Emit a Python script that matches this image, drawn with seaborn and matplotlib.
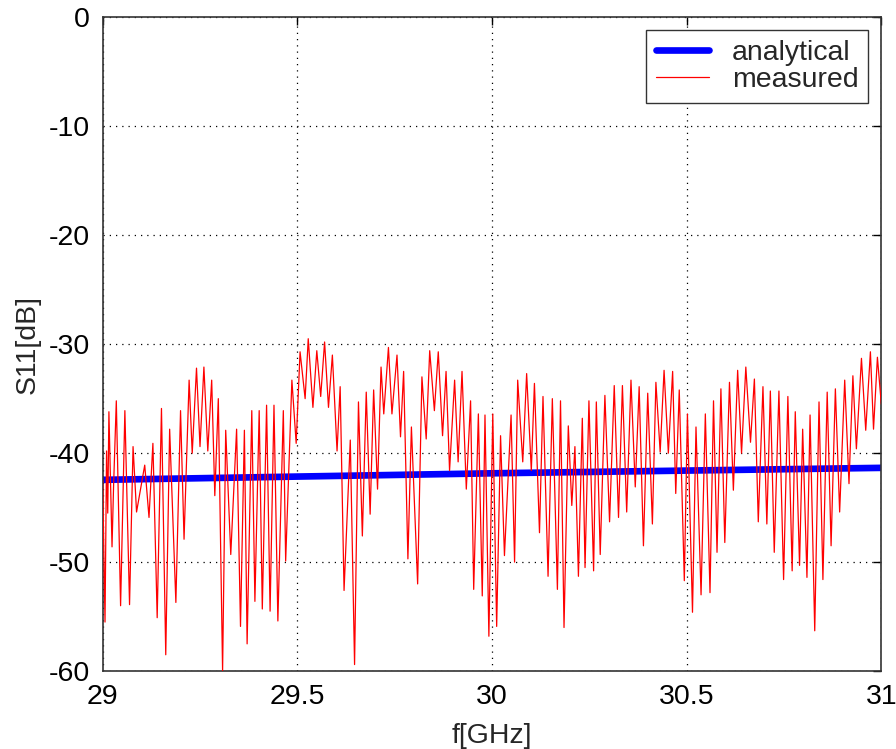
import numpy as np
import pandas as pd
import matplotlib
matplotlib.use("Agg")
import matplotlib.pyplot as plt
import seaborn as sns

# analytical curve (smooth)
f_analytical = [29.0, 29.5, 30.0, 30.5, 31.0]
s11_analytical = [-42.45, -42.15, -41.85, -41.6, -41.35]

# measured curve (peak / dip sequence)
f_measured = [
    29.000, 29.006, 29.010, 29.013, 29.016, 29.024, 29.028, 29.035, 29.046, 29.057,
    29.069, 29.078, 29.087, 29.108, 29.119, 29.129, 29.140, 29.151, 29.162, 29.172,
    29.188, 29.200, 29.209, 29.222, 29.230, 29.241,
    29.250, 29.260, 29.270, 29.280, 29.288, 29.297, 29.308, 29.316, 29.329, 29.344,
    29.354, 29.364, 29.371, 29.383, 29.391, 29.402, 29.410, 29.421, 29.430, 29.440,
    29.450, 29.464, 29.470, 29.486,
    29.497, 29.507, 29.520, 29.528, 29.540, 29.550, 29.560, 29.570, 29.580, 29.590,
    29.602, 29.610, 29.620, 29.636, 29.647, 29.657, 29.667, 29.677, 29.687, 29.696,
    29.706, 29.715, 29.722, 29.734,
    29.743, 29.756, 29.765, 29.773, 29.784, 29.793, 29.809, 29.820, 29.831, 29.840,
    29.852, 29.862, 29.873, 29.882, 29.891, 29.904, 29.913, 29.923, 29.934, 29.945,
    29.953, 29.965, 29.975, 29.982,
    29.992, 30.002, 30.012, 30.022, 30.032, 30.049, 30.058, 30.066, 30.079, 30.089,
    30.101, 30.109, 30.122, 30.131, 30.144, 30.155, 30.168, 30.176, 30.185, 30.196,
    30.205, 30.213, 30.222,
    30.232, 30.239, 30.249, 30.261, 30.268, 30.278, 30.290, 30.302, 30.314, 30.325,
    30.335, 30.346, 30.357, 30.368, 30.378, 30.389, 30.400, 30.412, 30.421, 30.432,
    30.442, 30.453, 30.464,
    30.472, 30.481, 30.494, 30.502, 30.515, 30.524, 30.537, 30.548, 30.560, 30.569,
    30.578, 30.588, 30.598, 30.610, 30.620, 30.631, 30.641, 30.652, 30.664, 30.674,
    30.684, 30.696, 30.706, 30.715,
    30.725, 30.737, 30.749, 30.760, 30.771, 30.779, 30.790, 30.798, 30.809, 30.817,
    30.829, 30.840, 30.850, 30.861, 30.871, 30.882, 30.893, 30.906, 30.917, 30.927,
    30.936, 30.949, 30.960, 30.972, 30.980, 30.990, 31.000,
]
s11_measured = [
    -42.5, -55.5, -39.8, -45.5, -36.2, -48.6, -43.0, -35.2, -54.0, -36.1,
    -53.9, -39.4, -45.4, -41.1, -45.9, -39.1, -55.1, -35.9, -58.5, -37.8,
    -53.7, -36.1, -47.9, -33.3, -40.0, -32.2,
    -39.4, -32.1, -39.8, -33.3, -43.9, -35.0, -60.0, -37.9, -49.3, -37.8,
    -55.9, -37.9, -57.5, -36.1, -53.6, -36.1, -54.3, -35.6, -54.5, -35.6,
    -55.4, -36.1, -49.9, -33.3,
    -39.1, -30.7, -35.0, -29.5, -35.8, -30.6, -34.8, -29.8, -35.8, -31.0,
    -39.8, -33.9, -52.6, -38.8, -59.4, -35.3, -47.6, -34.4, -45.6, -34.2,
    -43.3, -32.1, -36.4, -30.3,
    -36.4, -31.0, -38.5, -32.5, -49.7, -37.6, -52.0, -33.0, -38.7, -30.6,
    -36.1, -30.7, -38.4, -32.5, -41.6, -33.3, -40.8, -32.5, -43.3, -35.2,
    -52.5, -36.4, -53.1, -36.5,
    -56.8, -36.4, -55.9, -38.4, -49.4, -36.5, -50.0, -33.3, -40.8, -32.7,
    -41.6, -33.6, -47.3, -34.8, -51.3, -35.0, -52.5, -35.2, -56.0, -37.5,
    -44.8, -39.4, -51.3,
    -36.8, -50.5, -35.2, -50.8, -35.3, -49.3, -34.7, -46.3, -33.8, -45.9,
    -33.8, -45.4, -33.3, -43.1, -33.9, -48.5, -34.5, -46.5, -33.5, -39.9,
    -32.4, -40.0, -32.5,
    -43.7, -34.2, -51.7, -36.4, -54.6, -37.6, -53.0, -36.4, -52.8, -35.2,
    -49.1, -34.1, -48.2, -33.5, -43.4, -32.4, -40.0, -32.1, -39.0, -33.2,
    -46.3, -33.9, -46.5, -34.3,
    -49.1, -34.3, -51.6, -34.8, -50.8, -36.2, -50.3, -37.8, -51.4, -36.5,
    -56.3, -35.3, -51.6, -34.4, -48.5, -34.1, -45.4, -33.3, -42.8, -32.9,
    -39.6, -31.3, -37.9, -30.7, -37.8, -31.2, -35.5,
]

x_ticks = [29, 29.5, 30, 30.5, 31]
y_ticks = [-60, -50, -40, -30, -20, -10, 0]

sns.set_style("white")
plt.rcParams["font.family"] = ["Liberation Sans", "DejaVu Sans"]
plt.rcParams["axes.unicode_minus"] = False

fig = plt.figure(figsize=(8.96, 7.49), dpi=100)
ax = fig.add_axes([0.1146, 0.104, 0.869, 0.873])

ana = pd.DataFrame({"f": f_analytical, "s11": s11_analytical})
meas = pd.DataFrame({"f": f_measured, "s11": s11_measured})

sns.lineplot(data=ana, x="f", y="s11", ax=ax, color="#0000ff", linewidth=4.8,
             label="analytical", sort=False, estimator=None, zorder=2)
sns.lineplot(data=meas, x="f", y="s11", ax=ax, color="#ff0000", linewidth=0.9,
             label="measured", sort=False, estimator=None, zorder=3)

ax.set_xlim(29, 31)
ax.set_ylim(-60, 0)
ax.set_xticks(x_ticks)
ax.set_xticklabels(["29", "29.5", "30", "30.5", "31"])
ax.set_yticks(y_ticks)
ax.set_yticklabels([str(v) for v in y_ticks])

ax.grid(True, color="black", linestyle=(0, (1, 4)), linewidth=0.9)
ax.tick_params(direction="in", length=6, width=1, labelsize=20.5, colors="black",
               top=True, right=True, pad=9)
for sp in ax.spines.values():
    sp.set_color("#333333")
    sp.set_linewidth(1.2)

ax.set_xlabel("f[GHz]", fontsize=20.5, labelpad=10)
ax.set_ylabel("S11[dB]", fontsize=20.5, labelpad=6)

leg = ax.legend(loc="upper right", fontsize=20.5, frameon=True, fancybox=False,
                handlelength=1.85, borderpad=0.35, labelspacing=0.02,
                borderaxespad=0.45, handletextpad=0.8)
leg.get_frame().set_edgecolor("#333333")
leg.get_frame().set_linewidth(1.0)
leg.get_frame().set_alpha(1)

fig.savefig("out.png", dpi=100)
